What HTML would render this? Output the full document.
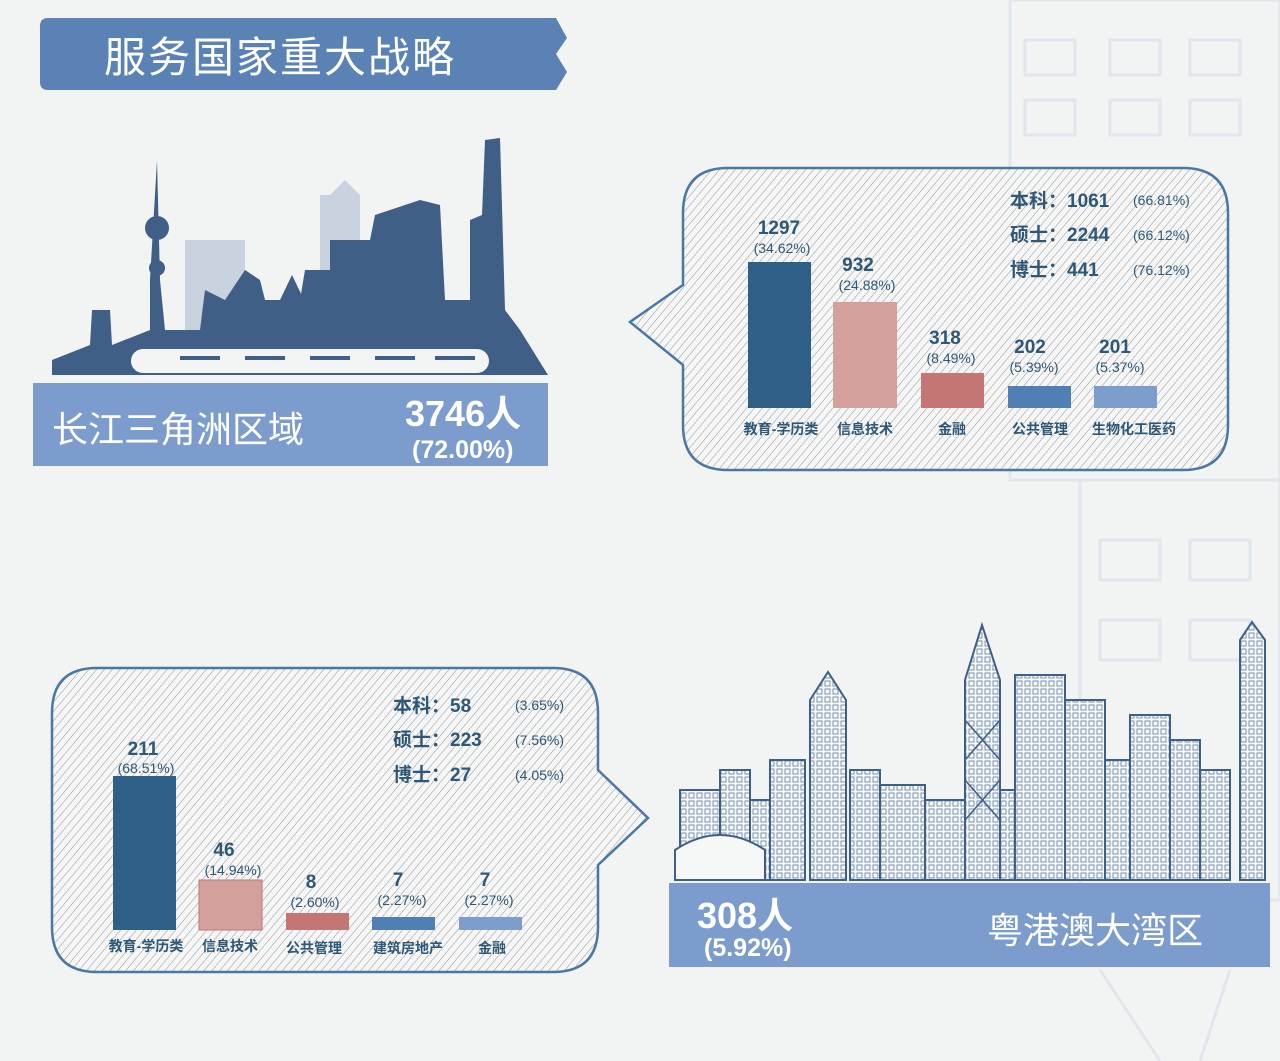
<!DOCTYPE html>
<html><head><meta charset="utf-8"><style>
body{margin:0;width:1280px;height:1061px;overflow:hidden;background:#f2f4f3;font-family:"Liberation Sans","Noto Sans CJK SC",sans-serif}
svg{display:block}
</style></head><body>
<svg width="1280" height="1061" viewBox="0 0 1280 1061" xmlns="http://www.w3.org/2000/svg" font-family="Liberation Sans, Noto Sans CJK SC, sans-serif">
<defs>
<pattern id="h" width="6" height="6" patternUnits="userSpaceOnUse" patternTransform="rotate(40)">
<rect width="6" height="6" fill="#f5f6f5"/><line x1="0" y1="0" x2="0" y2="6" stroke="#8d969d" stroke-width="1"/></pattern>
<pattern id="win" width="8" height="8" patternUnits="userSpaceOnUse">
<rect width="8" height="8" fill="#f6f7f7"/><rect x="1" y="1" width="5" height="5" fill="none" stroke="#5a7ba3" stroke-width="0.8"/></pattern>
</defs>
<g fill="none" stroke="#dfe6ee" stroke-width="3">
<rect x="1010" y="0" width="270" height="480"/>
<rect x="1025" y="40" width="50" height="35"/><rect x="1110" y="40" width="50" height="35"/><rect x="1190" y="40" width="50" height="35"/>
<rect x="1025" y="100" width="50" height="35"/><rect x="1110" y="100" width="50" height="35"/><rect x="1190" y="100" width="50" height="35"/>
<rect x="1080" y="480" width="200" height="420"/>
<rect x="1100" y="540" width="60" height="40"/><rect x="1190" y="540" width="60" height="40"/>
<rect x="1100" y="620" width="60" height="40"/><rect x="1190" y="620" width="60" height="40"/>
<line x1="1100" y1="970" x2="1160" y2="1061"/><line x1="1230" y1="970" x2="1200" y2="1061"/>
</g>
<path d="M48 18 H556 L567 38 L556 54 L567 72 L556 90 H48 Q40 90 40 82 V26 Q40 18 48 18Z" fill="#5a82b4"/>
<text x="104" y="72" font-size="42" fill="#fff" letter-spacing="2">服务国家重大战略</text>

<g fill="#c9d3e0">
<rect x="185" y="240" width="60" height="130"/><rect x="320" y="195" width="40" height="175"/><polygon points="330,195 345,180 360,195"/>
</g>
<g fill="#3f5f86">
<polygon points="52,375 52,360 90,345 92,310 110,310 112,345 150,330 150,280 157,160 160,280 165,330 200,330 205,290 225,300 245,270 260,280 265,300 300,300 305,270 330,270 330,240 370,240 375,215 420,200 440,205 445,300 470,300 470,220 482,215 485,140 500,138 505,310 520,330 548,375"/>
<circle cx="157" cy="228" r="12"/><circle cx="157" cy="268" r="8"/>
<polygon points="280,300 292,275 304,300"/>
</g>
<rect x="130" y="348" width="360" height="26" rx="13" fill="#f3f5f4" stroke="#3f5f86" stroke-width="2"/>
<g fill="#3f5f86"><rect x="180" y="356" width="40" height="4"/><rect x="245" y="356" width="40" height="4"/><rect x="310" y="356" width="40" height="4"/><rect x="375" y="356" width="40" height="4"/><rect x="435" y="356" width="40" height="4"/></g>
<rect x="33" y="383" width="515" height="83" fill="#7b9ccd"/>
<text x="52" y="442" font-size="36" fill="#fff">长江三角洲区域</text>
<text x="405" y="426" font-size="36" font-weight="bold" fill="#fff">3746人</text>
<text x="412" y="458" font-size="25" font-weight="bold" fill="#fff">(72.00%)</text>

<path d="M728 168 H1183 Q1228 168 1228 213 V425 Q1228 470 1183 470 H728 Q683 470 683 425 V365 L630 322 L683 285 V213 Q683 168 728 168Z" fill="url(#h)" stroke="#4b77a3" stroke-width="2.5"/>
<g fill="#2f5877" font-size="19" font-weight="bold">
<text x="1010" y="207">本科：1061</text><text x="1010" y="241">硕士：2244</text><text x="1010" y="276">博士：441</text>
</g>
<g fill="#2f5877" font-size="14">
<text x="1133" y="205">(66.81%)</text><text x="1133" y="240">(66.12%)</text><text x="1133" y="275">(76.12%)</text>
</g>
<rect x="748" y="262" width="63" height="146" fill="#2e5f86"/>
<rect x="833" y="302" width="64" height="106" fill="#d4a09c"/>
<rect x="921" y="373" width="63" height="35" fill="#c47674"/>
<rect x="1008" y="386" width="63" height="22" fill="#4f7fb3"/>
<rect x="1094" y="386" width="63" height="22" fill="#7d9dcc"/>
<g fill="#2f5877" font-size="19" text-anchor="middle" font-weight="bold">
<text x="779" y="234">1297</text><text x="858" y="271">932</text><text x="945" y="344">318</text><text x="1030" y="353">202</text><text x="1115" y="353">201</text>
</g>
<g fill="#2f5877" font-size="14" text-anchor="middle">
<text x="782" y="253">(34.62%)</text><text x="867" y="290">(24.88%)</text><text x="951" y="363">(8.49%)</text><text x="1034" y="372">(5.39%)</text><text x="1120" y="372">(5.37%)</text>
</g>
<g fill="#2f5877" font-size="14" text-anchor="middle" font-weight="bold">
<text x="781" y="434">教育-学历类</text><text x="865" y="434">信息技术</text><text x="952" y="434">金融</text><text x="1040" y="434">公共管理</text><text x="1134" y="434">生物化工医药</text>
</g>

<path d="M97 668 H553 Q598 668 598 713 V770 L648 818 L598 865 V927 Q598 972 553 972 H97 Q52 972 52 927 V713 Q52 668 97 668Z" fill="url(#h)" stroke="#4b77a3" stroke-width="2.5"/>
<g fill="#2f5877" font-size="19" font-weight="bold">
<text x="393" y="712">本科：58</text><text x="393" y="746">硕士：223</text><text x="393" y="781">博士：27</text>
</g>
<g fill="#2f5877" font-size="14">
<text x="515" y="710">(3.65%)</text><text x="515" y="745">(7.56%)</text><text x="515" y="780">(4.05%)</text>
</g>
<rect x="113" y="776" width="63" height="154" fill="#2e5f86"/>
<rect x="199" y="880" width="63" height="50" fill="#d4a09c" stroke="#c47674"/>
<rect x="286" y="913" width="63" height="17" fill="#c47674"/>
<rect x="372" y="917" width="63" height="13" fill="#4f7fb3"/>
<rect x="459" y="917" width="63" height="13" fill="#7d9dcc"/>
<g fill="#2f5877" font-size="19" text-anchor="middle" font-weight="bold">
<text x="143" y="755">211</text><text x="224" y="856">46</text><text x="311" y="888">8</text><text x="398" y="886">7</text><text x="485" y="886">7</text>
</g>
<g fill="#2f5877" font-size="14" text-anchor="middle">
<text x="146" y="773">(68.51%)</text><text x="233" y="875">(14.94%)</text><text x="315" y="907">(2.60%)</text><text x="402" y="905">(2.27%)</text><text x="489" y="905">(2.27%)</text>
</g>
<g fill="#2f5877" font-size="14" text-anchor="middle" font-weight="bold">
<text x="146" y="951">教育-学历类</text><text x="230" y="951">信息技术</text><text x="314" y="953">公共管理</text><text x="408" y="953">建筑房地产</text><text x="492" y="953">金融</text>
</g>

<g fill="url(#win)" stroke="#3f5f86" stroke-width="2">
<rect x="680" y="790" width="40" height="90"/><rect x="720" y="770" width="30" height="110"/>
<rect x="750" y="800" width="20" height="80"/>
<rect x="770" y="760" width="35" height="120"/><polygon points="810,880 810,700 828,672 846,700 846,880"/>
<rect x="850" y="770" width="30" height="110"/><rect x="880" y="785" width="45" height="95"/>
<rect x="925" y="800" width="40" height="80"/><polygon points="965,880 965,680 982,625 1000,680 1000,880"/>
<rect x="1000" y="790" width="15" height="90"/>
<rect x="1015" y="675" width="50" height="205"/><rect x="1065" y="700" width="40" height="180"/>
<rect x="1105" y="760" width="25" height="120"/><rect x="1130" y="715" width="40" height="165"/>
<rect x="1170" y="740" width="30" height="140"/><rect x="1200" y="770" width="30" height="110"/>
<polygon points="1240,880 1240,640 1252,622 1265,640 1265,880"/>
</g>
<path d="M675 880 V850 Q720 820 765 850 V880Z" fill="#f6f7f7" stroke="#3f5f86" stroke-width="2"/>
<g stroke="#3f5f86" stroke-width="1.5">
<line x1="965" y1="720" x2="1000" y2="760"/><line x1="1000" y1="720" x2="965" y2="760"/><line x1="965" y1="780" x2="1000" y2="820"/><line x1="1000" y1="780" x2="965" y2="820"/>
</g>
<rect x="669" y="883" width="601" height="84" fill="#7b9ccd"/>
<text x="697" y="928" font-size="36" font-weight="bold" fill="#fff">308人</text>
<text x="704" y="956" font-size="25" font-weight="bold" fill="#fff">(5.92%)</text>
<text x="987" y="943" font-size="36" fill="#fff">粤港澳大湾区</text>
</svg>
</body></html>
